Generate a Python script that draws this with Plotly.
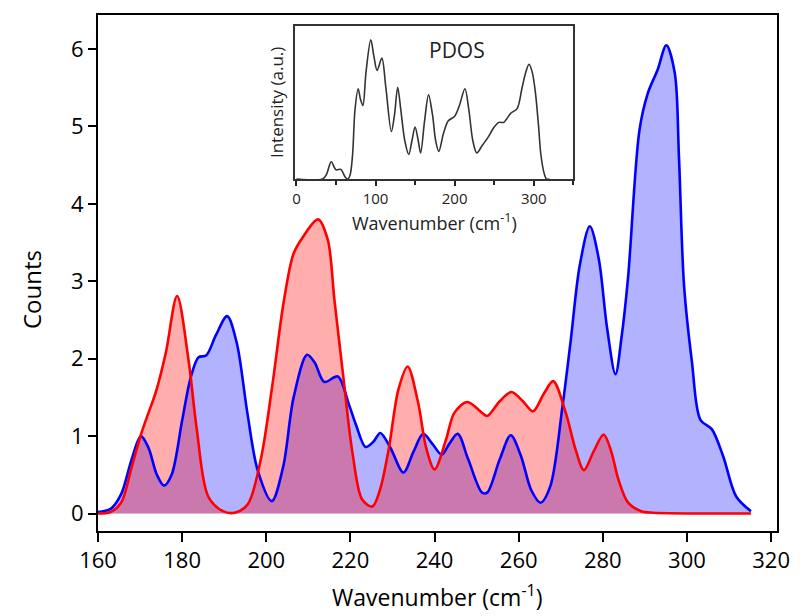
import plotly.graph_objects as go

# Main chart: blue series
blue_x = [160.0, 163.0, 165.5, 168.0, 170.2, 172.0, 174.0, 175.7, 177.5, 180.0, 182.0, 183.9, 185.7,
          188.0, 190.7, 193.0, 195.5, 198.0, 201.3, 204.0, 206.5, 209.7, 211.5, 213.8, 217.0, 219.7,
          221.3, 223.6, 225.5, 227.1, 229.5, 232.6, 235.0, 237.3, 239.5, 241.7, 243.5, 245.5, 248.0,
          251.3, 252.5, 255.5, 258.1, 260.5, 263.0, 265.2, 267.5, 270.4, 272.4, 274.5, 276.9, 279.0,
          281.0, 283.0, 284.5, 286.0, 288.7, 290.7, 293.0, 295.1, 297.1, 298.1, 299.3, 301.2, 303.2,
          305.9, 308.6, 311.7, 315.2]
blue_y = [0.02, 0.06, 0.25, 0.70, 1.00, 0.85, 0.50, 0.36, 0.50, 1.20, 1.75, 2.02, 2.04,
          2.30, 2.55, 2.20, 1.30, 0.55, 0.16, 0.60, 1.50, 2.05, 1.95, 1.70, 1.77, 1.40,
          1.15, 0.86, 0.93, 1.04, 0.85, 0.53, 0.80, 1.03, 0.90, 0.76, 0.90, 1.03, 0.70,
          0.27, 0.27, 0.70, 1.01, 0.75, 0.30, 0.14, 0.35, 1.38, 2.25, 3.20, 3.71, 3.30,
          2.40, 1.80, 2.30, 3.05, 4.95, 5.43, 5.73, 6.05, 5.69, 4.60, 2.95, 1.95, 1.21,
          1.09, 0.74, 0.22, 0.03]

# Main chart: red series
red_x = [160.0, 163.0, 165.5, 168.0, 170.2, 172.0, 173.7, 176.1, 178.8, 181.5, 183.5, 186.2, 189.7,
         192.5, 195.6, 198.7, 201.4, 204.1, 206.5, 208.8, 212.3, 214.6, 216.2, 218.2, 220.5, 222.8,
         225.2, 227.0, 229.1, 231.4, 233.6, 236.1, 238.0, 240.0, 242.7, 244.7, 247.8, 251.3, 252.5,
         255.5, 258.3, 261.0, 263.4, 266.0, 268.2, 271.2, 273.5, 275.5, 277.8, 280.2, 282.0, 283.7,
         286.0, 289.1, 292.0, 315.2]
red_y = [0.0, 0.02, 0.14, 0.60, 1.02, 1.30, 1.56, 2.07, 2.81, 1.99, 1.08, 0.22, 0.03,
         0.01, 0.12, 0.70, 1.64, 2.72, 3.36, 3.58, 3.80, 3.54, 2.76, 1.82, 0.78, 0.18,
         0.09, 0.30, 0.83, 1.60, 1.90, 1.43, 0.85, 0.57, 0.95, 1.30, 1.44, 1.30, 1.26,
         1.45, 1.57, 1.45, 1.32, 1.55, 1.71, 1.30, 0.83, 0.56, 0.80, 1.02, 0.80, 0.44,
         0.14, 0.03, 0.01, 0.0]

# Inset: PDOS
pdos_x = [0, 33, 38, 44, 50, 56, 62, 65, 68, 71, 74, 78, 81, 84, 88, 94, 98, 102, 108, 113, 120,
          124, 128, 132, 137, 142, 146, 150, 154, 157, 162, 167, 172, 176, 180, 186, 192, 200, 206,
          213, 218, 223, 228, 235, 242, 250, 256, 262, 271, 279, 285, 290, 294, 298, 302, 306, 309,
          313, 316, 320]
pdos_y = [0, 0, 0.03, 0.113, 0.06, 0.063, 0.01, 0, 0.03, 0.16, 0.45, 0.59, 0.52, 0.48, 0.70, 0.91,
          0.80, 0.71, 0.79, 0.60, 0.31, 0.42, 0.60, 0.45, 0.25, 0.16, 0.25, 0.34, 0.25, 0.17, 0.38,
          0.55, 0.42, 0.25, 0.18, 0.30, 0.38, 0.41, 0.48, 0.59, 0.45, 0.25, 0.17, 0.22, 0.27, 0.34,
          0.37, 0.37, 0.43, 0.46, 0.59, 0.70, 0.75, 0.70, 0.57, 0.35, 0.16, 0.04, 0, 0]

main_x_ticks = [160, 180, 200, 220, 240, 260, 280, 300, 320]
main_y_ticks = [0, 1, 2, 3, 4, 5, 6]
inset_x_ticks = [0, 100, 200, 300]

FONT = "Open Sans"
SPL = dict(shape="spline", smoothing=0.9)

fig = go.Figure()
# fills first
fig.add_trace(go.Scatter(x=blue_x, y=blue_y, mode="lines", fill="tozeroy",
                         fillcolor="rgba(0,0,255,0.30)", line=dict(width=0, **SPL),
                         showlegend=False, hoverinfo="skip"))
fig.add_trace(go.Scatter(x=red_x, y=red_y, mode="lines", fill="tozeroy",
                         fillcolor="rgba(255,0,0,0.32)", line=dict(width=0, **SPL),
                         showlegend=False, hoverinfo="skip"))
# outlines on top
fig.add_trace(go.Scatter(x=blue_x, y=blue_y, mode="lines",
                         line=dict(color="rgb(0,0,255)", width=2.6, **SPL), showlegend=False))
fig.add_trace(go.Scatter(x=red_x, y=red_y, mode="lines",
                         line=dict(color="rgb(255,0,0)", width=2.6, **SPL), showlegend=False))
fig.add_trace(go.Scatter(x=pdos_x, y=pdos_y, mode="lines",
                         line=dict(color="#333333", width=1.6, **SPL),
                         showlegend=False, xaxis="x2", yaxis="y2"))

fig.update_layout(
    width=802, height=616,
    margin=dict(l=98, r=14, t=15, b=85),
    paper_bgcolor="white", plot_bgcolor="white",
    font=dict(family=FONT, color="black"),
    xaxis=dict(range=[160, 321.4], tickvals=main_x_ticks, ticks="outside", ticklen=9, tickwidth=2,
               tickcolor="black", showline=True, linewidth=2, linecolor="black", mirror=True,
               showgrid=False, zeroline=False, tickfont=dict(size=22, family=FONT),
               domain=[0, 1]),
    yaxis=dict(range=[-0.226, 6.44], tickvals=main_y_ticks, ticks="outside", ticklen=8, tickwidth=2,
               tickcolor="black", showline=True, linewidth=2, linecolor="black", mirror=True,
               showgrid=False, zeroline=False, tickfont=dict(size=22, family=FONT),
               domain=[0, 1]),
    xaxis2=dict(domain=[0.2899, 0.7], anchor="y2", range=[-2, 350], tickvals=inset_x_ticks,
                ticks="outside", ticklen=5, tickwidth=1.5, tickcolor="#222",
                minor=dict(dtick=50, tick0=0, ticks="outside", ticklen=4, tickwidth=1.5, tickcolor="#222"),
                showline=True, linewidth=1.6, linecolor="#333", mirror=True, showgrid=False,
                zeroline=False, tickfont=dict(size=15, family=FONT, color="#222")),
    yaxis2=dict(domain=[0.6822, 0.9787], anchor="x2", range=[0, 1], showticklabels=False,
                ticks="", showline=True, linewidth=1.6, linecolor="#333", mirror=True,
                showgrid=False, zeroline=False),
    annotations=[
        dict(text="Counts", xref="paper", yref="paper", x=-0.0986, y=0.467, showarrow=False,
             textangle=-90, font=dict(size=24, family=FONT, color="black"),
             xanchor="center", yanchor="middle"),
        dict(text="Wavenumber (cm<sup>-1</sup>)", xref="paper", yref="paper", x=0.5, y=-0.126,
             showarrow=False, font=dict(size=23, family=FONT, color="black"),
             xanchor="center", yanchor="middle"),
        dict(text="Intensity (a.u.)", xref="paper", yref="paper", x=0.2638, y=0.8295,
             showarrow=False, textangle=-90, font=dict(size=17, family=FONT, color="#222"),
             xanchor="center", yanchor="middle"),
        dict(text="Wavenumber (cm<sup>-1</sup>)", xref="paper", yref="paper", x=0.4957, y=0.5988,
             showarrow=False, font=dict(size=18, family=FONT, color="#222"),
             xanchor="center", yanchor="middle"),
        dict(text="PDOS", xref="paper", yref="paper", x=0.529, y=0.932, showarrow=False,
             font=dict(size=21, family=FONT, color="#222"), xanchor="center", yanchor="middle"),
    ],
)

fig.write_html("out.html", config={"displayModeBar": False},
               post_script="document.body.style.margin='0';document.body.style.overflow='hidden';")
